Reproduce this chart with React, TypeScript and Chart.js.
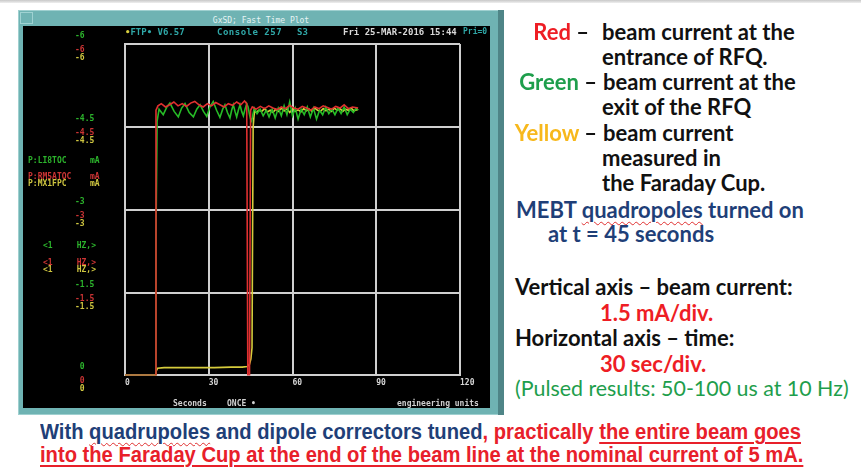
import React, { useEffect, useRef } from "react";
import { Chart, registerables } from "chart.js";

Chart.register(...registerables);

// ---------- data (time in seconds, beam current in mA) ----------
const xTickValues = [0, 30, 60, 90, 120];
const yTickValues = [6, 4.5, 3, 1.5, 0];
const yTickLabels = ["-6", "-4.5", "-3", "-1.5", "0"];

const redTrace: [number, number][] = [
  [0, 0], [10.8, 0], [11.1, 4.8], [11.8, 4.88], [13, 4.92], [14.5, 4.86], [16, 4.9],
  [17.5, 4.95], [19, 4.88], [20.5, 4.92], [22, 4.87], [23.5, 4.93], [25, 4.96], [26.5, 4.9],
  [28, 4.86], [29.5, 4.92], [31, 4.88], [32.5, 4.94], [34, 4.9], [35.5, 4.86], [37, 4.92],
  [38.5, 4.89], [40, 4.95], [41.5, 4.9], [42.8, 4.97], [43.6, 4.92], [44.0, 0], [44.6, 0],
  [45.0, 4.8], [45.6, 4.86], [47, 4.82], [48.5, 4.87], [50, 4.83], [51.5, 4.88], [53, 4.84],
  [54.5, 4.81], [56, 4.86], [57.5, 4.83], [59, 4.89], [60.5, 4.84], [62, 4.82], [63.5, 4.87],
  [65, 4.84], [66.5, 4.8], [68, 4.86], [69.5, 4.83], [71, 4.88], [72.5, 4.85], [74, 4.82],
  [75.5, 4.87], [77, 4.84], [78.5, 4.9], [80, 4.83], [81.5, 4.86], [83.5, 4.84],
];

const greenTrace: [number, number][] = [
  [0, 0], [10.8, 0], [11.1, 2.5], [11.5, 4.6], [12.2, 4.82], [13.7, 4.72], [15.0, 4.86],
  [16.1, 4.93], [17.6, 4.78], [19.1, 4.68], [20.3, 4.84], [21.5, 4.92], [23.0, 4.76],
  [24.5, 4.68], [25.7, 4.82], [26.9, 4.9], [28.1, 4.78], [29.3, 4.69], [30.4, 4.86],
  [31.6, 4.96], [32.8, 4.8], [34.0, 4.67], [35.0, 4.82], [35.8, 4.9], [36.7, 4.76],
  [37.6, 4.66], [38.2, 4.8], [38.8, 4.9], [39.4, 4.78], [40.0, 4.68], [40.6, 4.8],
  [41.2, 4.9], [41.8, 4.78], [42.4, 4.7], [43.0, 4.82], [43.6, 4.92], [44.1, 4.86],
  [44.6, 4.72], [45.0, 4.64], [45.4, 4.6], [45.8, 4.72], [46.3, 4.84], [47.3, 4.74],
  [48.4, 4.82], [49.5, 4.7], [50.6, 4.8], [51.6, 4.68], [52.7, 4.82], [53.8, 4.66],
  [54.9, 4.84], [56.0, 4.7], [57.0, 4.88], [58.0, 4.72], [59.0, 4.95], [60.0, 4.7],
  [61.0, 4.84], [62.0, 4.64], [63.1, 4.82], [64.2, 4.72], [65.3, 4.86], [66.4, 4.68],
  [67.5, 4.84], [68.6, 4.64], [69.7, 4.8], [70.8, 4.72], [71.9, 4.86], [73.0, 4.74],
  [74.1, 4.82], [75.2, 4.72], [76.3, 4.84], [77.4, 4.74], [78.5, 4.86], [79.6, 4.72],
  [80.7, 4.82], [81.8, 4.76], [82.8, 4.84], [83.5, 4.8],
];

const yellowTrace: [number, number][] = [
  [0, 0], [10.9, 0], [11.2, 0.08], [11.7, 0.13], [14, 0.14], [20, 0.14], [26, 0.14],
  [32, 0.14], [38, 0.15], [42, 0.15], [43.8, 0.16], [44.6, 0.2], [45.1, 0.3], [45.5, 0.5],
  [45.9, 4.5], [46.4, 4.8], [47, 4.76], [48, 4.8], [49, 4.78], [50, 4.83], [51, 4.77],
  [52, 4.8], [53, 4.76], [54, 4.82], [55, 4.78], [56, 4.84], [57, 4.79], [58, 4.83],
  [59, 4.76], [60, 4.82], [61, 4.78], [62, 4.81], [63, 4.77], [64, 4.83], [65, 4.79],
  [66, 4.82], [67, 4.78], [68, 4.84], [69, 4.8], [70, 4.78], [71, 4.83], [72, 4.79],
  [73, 4.82], [74, 4.78], [75, 4.84], [76, 4.8], [77, 4.83], [78, 4.78], [79, 4.82],
  [80, 4.8], [81, 4.84], [82, 4.79], [83.5, 4.82],
];

const channelNames = ["P:LI8TOC", "P:RM5ATOC", "P:MX1FPC"];

// ---------- styles ----------
const RED = "#e03030";
const GREEN = "#26bb26";
const YELLOW = "#d6cc3c";
const LBL_RED = "#cc3434";
const LBL_GREEN = "#2cb42c";
const LBL_YELLOW = "#cfc640";
const TEAL = "#6fb3b3";
const MONO = '"DejaVu Sans Mono", monospace';

const CANVAS_LEFT = 23;
const CANVAS_TOP = 26;
const CANVAS_W = 467;
const CANVAS_H = 382;

const leftLabelPlugin = {
  id: "leftLabels",
  afterDraw(chart: any) {
    const y = chart.scales.y;
    const ctx = chart.ctx;
    ctx.save();
    ctx.font = `bold 8px ${MONO}`;
    ctx.textBaseline = "middle";
    ctx.textAlign = "left";
    const groups: [string, number][] = [
      [LBL_GREEN, -8],
      [LBL_RED, 6],
      [LBL_YELLOW, 14],
    ];
    yTickValues.forEach((v, i) => {
      const py = y.getPixelForValue(v);
      const raw = yTickLabels[i];
      const lab = raw.startsWith("-") ? raw : " " + raw;
      groups.forEach(([c, off]) => {
        ctx.fillStyle = c;
        ctx.fillText(lab, 75 - CANVAS_LEFT, py + off);
      });
    });
    ctx.restore();
  },
};

function Scope() {
  const ref = useRef<HTMLCanvasElement | null>(null);
  useEffect(() => {
    if (!ref.current) return;
    const toPts = (a: [number, number][]) => a.map(([x, y]) => ({ x, y }));
    const chart = new Chart(ref.current, {
      type: "line",
      data: {
        datasets: [
          { label: "red", data: toPts(redTrace), borderColor: RED, borderWidth: 1.6, pointRadius: 0, tension: 0, order: 1 },
          { label: "yellow", data: toPts(yellowTrace), borderColor: YELLOW, borderWidth: 1.6, pointRadius: 0, tension: 0, order: 3 },
          { label: "green", data: toPts(greenTrace), borderColor: GREEN, borderWidth: 1.6, pointRadius: 0, tension: 0, order: 2 },
        ],
      },
      options: {
        responsive: false,
        animation: false,
        devicePixelRatio: 1,
        parsing: false as any,
        layout: { padding: { left: 125 - CANVAS_LEFT, right: CANVAS_LEFT + CANVAS_W - 460, top: 44 - CANVAS_TOP, bottom: 17 } },
        plugins: { legend: { display: false }, tooltip: { enabled: false } },
        scales: {
          x: {
            type: "linear",
            min: 0,
            max: 120,
            afterBuildTicks: (s: any) => {
              s.ticks = xTickValues.map((v) => ({ value: v }));
            },
            ticks: { color: "#d6d6d6", font: { family: MONO, size: 8, weight: "bold" }, align: "start", padding: 3, maxRotation: 0 },
            grid: { color: "#cfcfcf", lineWidth: 2, drawTicks: false },
            border: { display: true, color: "#cfcfcf", width: 2 },
          },
          y: {
            type: "linear",
            min: 0,
            max: 6,
            afterBuildTicks: (s: any) => {
              s.ticks = yTickValues.map((v) => ({ value: v }));
            },
            ticks: { display: false },
            grid: { color: "#cfcfcf", lineWidth: 2, drawTicks: false },
            border: { display: true, color: "#cfcfcf", width: 2 },
          },
        },
      },
      plugins: [leftLabelPlugin],
    } as any);
    return () => chart.destroy();
  }, []);
  return (
    <canvas
      ref={ref}
      width={CANVAS_W}
      height={CANVAS_H}
      style={{ position: "absolute", left: CANVAS_LEFT, top: CANVAS_TOP, width: CANVAS_W, height: CANVAS_H }}
    />
  );
}

const abs = (left: number, top: number, extra: React.CSSProperties = {}): React.CSSProperties => ({
  position: "absolute",
  left,
  top,
  whiteSpace: "pre",
  ...extra,
});

const mono = (size: number, color: string): React.CSSProperties => ({
  fontFamily: MONO,
  fontSize: size,
  fontWeight: "bold",
  color,
  lineHeight: `${size}px`,
});

const SANS = 'Lato, "Open Sans", sans-serif';
const TXT_SIZE = 22;
const txt = (color: string, bold = true, size = TXT_SIZE): React.CSSProperties => ({
  fontFamily: SANS,
  fontSize: size,
  fontWeight: bold ? 700 : 400,
  color,
  lineHeight: `${TXT_SIZE}px`,
});
const T_RED = "#ee1d24";
const T_GREEN = "#1e9e4c";
const T_YELLOW = "#f7b81c";
const T_BLUE = "#1f3f78";
const T_BLACK = "#111111";

const wavy: React.CSSProperties = {
  textDecorationLine: "underline",
  textDecorationStyle: "wavy",
  textDecorationColor: "#e03030",
  textDecorationThickness: "1px",
  textUnderlineOffset: "3px",
};
const solidUnder: React.CSSProperties = {
  textDecorationLine: "underline",
  textDecorationColor: "#e8202a",
  textDecorationThickness: "2px",
  textUnderlineOffset: "3px",
};

export default function App() {
  const rt = (cy: number) => cy - TXT_SIZE / 2;
  const BOT = 22;
  const bottomFont: React.CSSProperties = {
    fontFamily: '"Liberation Sans Narrow", "Arial Narrow", "Liberation Sans", sans-serif',
    fontSize: BOT,
    fontWeight: 700,
    lineHeight: `${BOT}px`,
    transform: "scaleX(0.917)",
    transformOrigin: "0 50%",
  };
  return (
    <div style={{ position: "fixed", left: 0, top: 0, width: 861, height: 470, background: "#ffffff", overflow: "hidden" }}>
      <div style={{ position: "absolute", left: 0, top: 0, width: 861, height: 3, background: "linear-gradient(#c8c8c8,#efefef)" }} />
      {/* window frame */}
      <div style={{ position: "absolute", left: 18, top: 10, width: 486, height: 405, background: TEAL, boxShadow: "inset 0 0 0 1px #9fd0d0" }} />
      <div style={{ position: "absolute", left: 498, top: 10, width: 6, height: 405, background: "#4f8587" }} />
      <div style={{ position: "absolute", left: 20, top: 12, width: 13, height: 12, border: "1px solid #9fd2d2", boxSizing: "border-box" }} />
      <div style={{ ...abs(0, 17), width: 522, textAlign: "center", ...mono(8, "#e6f4f4"), fontWeight: "normal" }}>GxSD; Fast Time Plot</div>
      <div style={{ position: "absolute", left: CANVAS_LEFT, top: CANVAS_TOP, width: CANVAS_W, height: CANVAS_H, background: "#000" }} />
      <Scope />
      {/* header line */}
      <div style={abs(125, 28, mono(9, "#2fa7a7"))}>
        <span style={{ color: "#d8d040" }}>•</span>FTP• V6.57
      </div>
      <div style={abs(217, 28, { ...mono(9, "#2fa7a7"), letterSpacing: 0.5 })}>Console 257</div>
      <div style={abs(297, 28, mono(9, "#2fa7a7"))}>S3</div>
      <div style={abs(343, 28, mono(9, "#d8d8d8"))}>Fri 25-MAR-2016 15:44</div>
      <div style={abs(463, 28, mono(8, "#2fa7a7"))}>Pri=0</div>
      {/* channel names */}
      <div style={abs(28, 157, mono(8, LBL_GREEN))}>{channelNames[0]}</div>
      <div style={abs(90, 157, mono(8, LBL_GREEN))}>mA</div>
      <div style={abs(28, 173, mono(8, LBL_RED))}>{channelNames[1]}</div>
      <div style={abs(90, 173, mono(8, LBL_RED))}>mA</div>
      <div style={abs(28, 180, mono(8, LBL_YELLOW))}>{channelNames[2]}</div>
      <div style={abs(90, 180, mono(8, LBL_YELLOW))}>mA</div>
      {/* rates */}
      <div style={abs(43, 242, mono(8, LBL_GREEN))}>{"<1     HZ,>"}</div>
      <div style={abs(43, 259, mono(8, LBL_RED))}>{"<1     HZ,>"}</div>
      <div style={abs(43, 266, mono(8, LBL_YELLOW))}>{"<1     HZ,>"}</div>
      {/* footer of scope */}
      <div style={abs(173, 400, mono(8, "#d0d0d0"))}>Seconds</div>
      <div style={abs(227, 400, mono(8, "#d0d0d0"))}>ONCE •</div>
      <div style={abs(397, 400, mono(8, "#d0d0d0"))}>engineering units</div>

      {/* right-hand notes */}
      <div style={{ ...abs(0, rt(32)), width: 589, textAlign: "right", ...txt(T_BLACK) }}>
        <span style={{ color: T_RED }}>Red</span> –
      </div>
      <div style={{ ...abs(602, rt(32)), ...txt(T_BLACK) }}>beam current at the</div>
      <div style={{ ...abs(602, rt(57)), ...txt(T_BLACK) }}>entrance of RFQ.</div>
      <div style={{ ...abs(0, rt(82)), width: 597, textAlign: "right", ...txt(T_BLACK) }}>
        <span style={{ color: T_GREEN }}>Green</span> –
      </div>
      <div style={{ ...abs(603, rt(82)), ...txt(T_BLACK) }}>beam current at the</div>
      <div style={{ ...abs(602, rt(107)), ...txt(T_BLACK) }}>exit of the RFQ</div>
      <div style={{ ...abs(0, rt(133)), width: 597, textAlign: "right", ...txt(T_BLACK) }}>
        <span style={{ color: T_YELLOW }}>Yellow</span> –
      </div>
      <div style={{ ...abs(603, rt(133)), ...txt(T_BLACK) }}>beam current</div>
      <div style={{ ...abs(602, rt(158)), ...txt(T_BLACK) }}>measured in</div>
      <div style={{ ...abs(602, rt(183)), ...txt(T_BLACK) }}>the Faraday Cup.</div>
      <div style={{ ...abs(516, rt(210)), ...txt(T_BLUE) }}>
        MEBT <span style={wavy}>quadropoles</span> turned on
      </div>
      <div style={{ ...abs(548, rt(234)), ...txt(T_BLUE) }}>at t = 45 seconds</div>
      <div style={{ ...abs(515, rt(287)), ...txt(T_BLACK) }}>Vertical axis – beam current:</div>
      <div style={{ ...abs(600, rt(313)), ...txt(T_RED) }}>1.5 mA/div.</div>
      <div style={{ ...abs(515, rt(338)), ...txt(T_BLACK) }}>Horizontal axis – time:</div>
      <div style={{ ...abs(600, rt(364)), ...txt(T_RED) }}>30 sec/div.</div>
      <div style={{ ...abs(515, rt(388)), ...txt(T_GREEN, false, 21.4) }}>(Pulsed results: 50-100 us at 10 Hz)</div>

      {/* bottom statement */}
      <div style={{ ...abs(40, 432 - BOT / 2), ...bottomFont, color: T_BLUE }}>
        With <span style={wavy}>quadrupoles</span> and dipole correctors tuned
        <span style={{ color: "#e8202a" }}>
          , practically <span style={solidUnder}>the entire beam goes</span>
        </span>
      </div>
      <div style={{ ...abs(40, 455 - BOT / 2), ...bottomFont, color: "#e8202a" }}>
        <span style={solidUnder}>into the Faraday Cup at the end of the beam line at the nominal current of 5 mA.</span>
      </div>
    </div>
  );
}
